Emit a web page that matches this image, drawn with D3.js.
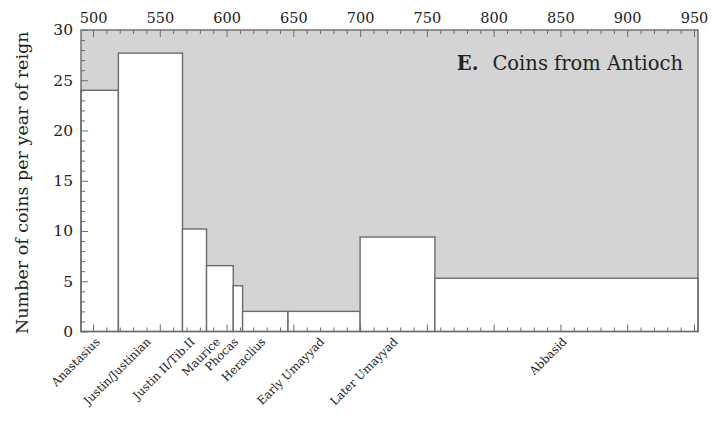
<!DOCTYPE html>
<html>
<head>
<meta charset="utf-8">
<script src="https://cdn.jsdelivr.net/npm/d3@7"></script>
<style>
  html, body { margin: 0; padding: 0; background: #fff; }
  svg text { font-family: "DejaVu Serif", "Liberation Serif", serif; fill: #222; }
</style>
</head>
<body>
<svg id="chart" width="713" height="428"></svg>
<script>
// Reigns / periods (years AD) and the coin rate for each
const periods = ["Anastasius", "Justin/Justinian", "Justin II/Tib.II", "Maurice", "Phocas",
                 "Heraclius", "Early Umayyad", "Later Umayyad", "Abbasid"];
const startYears = [491, 519, 567, 585, 605, 612, 646, 700, 756];
const endYears   = [519, 567, 585, 605, 612, 646, 700, 756, 953];
const coinsPerYear = [24.0, 27.7, 10.2, 6.55, 4.55, 2.0, 2.0, 9.4, 5.3];

const yearTicks = [500, 550, 600, 650, 700, 750, 800, 850, 900, 950];
const rateTicks = [0, 5, 10, 15, 20, 25, 30];

const svg = d3.select("#chart");
const plotLeft = 81, plotRight = 698, plotTop = 30, plotBottom = 331.5;

const x = d3.scaleLinear().domain([491, 953]).range([plotLeft, plotRight]);
const y = d3.scaleLinear().domain([0, 30]).range([plotBottom, plotTop]);

const frameColor = "#6c6c6c";

// shaded plotting field
svg.append("rect")
  .attr("x", plotLeft).attr("y", plotTop)
  .attr("width", plotRight - plotLeft).attr("height", plotBottom - plotTop)
  .attr("fill", "#d4d4d4");

// one bar per reign, width = length of reign
svg.append("g").selectAll("rect")
  .data(periods)
  .join("rect")
  .attr("x", (d, i) => x(startYears[i]))
  .attr("width", (d, i) => x(endYears[i]) - x(startYears[i]))
  .attr("y", (d, i) => y(coinsPerYear[i]))
  .attr("height", (d, i) => plotBottom - y(coinsPerYear[i]))
  .attr("fill", "#ffffff")
  .attr("stroke", frameColor)
  .attr("stroke-width", 1.4);

// frame
svg.append("rect")
  .attr("x", plotLeft).attr("y", plotTop)
  .attr("width", plotRight - plotLeft).attr("height", plotBottom - plotTop)
  .attr("fill", "none")
  .attr("stroke", frameColor)
  .attr("stroke-width", 1.4);

// top year axis: labelled every 50, minor ticks every 10, ticks point inward
const minorYears = d3.range(500, 951, 10);
const topAxis = d3.axisTop(x).tickValues(yearTicks).tickSize(0).tickPadding(7)
  .tickFormat(d3.format("d"));
const gTop = svg.append("g").attr("transform", `translate(0,${plotTop})`).call(topAxis);
gTop.select(".domain").remove();
gTop.selectAll("text").attr("font-size", 14.5).style("font-family", "DejaVu Serif, serif").attr("fill", "#222");

const gTopTicks = svg.append("g").attr("transform", `translate(0,${plotTop})`)
  .call(d3.axisBottom(x).tickValues(minorYears).tickSize(4).tickFormat(""));
gTopTicks.select(".domain").remove();
gTopTicks.selectAll("line").attr("stroke", frameColor)
  .attr("y2", d => (d % 50 === 0 ? 7 : 4));

// bottom ticks pointing up
const gBotTicks = svg.append("g").attr("transform", `translate(0,${plotBottom})`)
  .call(d3.axisTop(x).tickValues(minorYears).tickSize(4).tickFormat(""));
gBotTicks.select(".domain").remove();
gBotTicks.selectAll("line").attr("stroke", frameColor)
  .attr("y2", d => (d % 50 === 0 ? -7 : -4));

// left rate axis
const gLeft = svg.append("g").attr("transform", `translate(${plotLeft},0)`)
  .call(d3.axisLeft(y).tickValues(rateTicks).tickSize(0).tickPadding(8));
gLeft.select(".domain").remove();
gLeft.selectAll("text").attr("font-size", 15.5).style("font-family", "DejaVu Serif, serif").attr("fill", "#222");

const gLeftTicks = svg.append("g").attr("transform", `translate(${plotLeft},0)`)
  .call(d3.axisRight(y).tickValues(d3.range(0, 31, 1)).tickSize(4).tickFormat(""));
gLeftTicks.select(".domain").remove();
gLeftTicks.selectAll("line").attr("stroke", frameColor)
  .attr("x2", d => (d % 5 === 0 ? 7 : 4));

// y title
svg.append("text")
  .attr("transform", `translate(28,${(plotTop + plotBottom) / 2 + 2}) rotate(-90)`)
  .attr("text-anchor", "middle")
  .attr("font-size", 17.5)
  .text("Number of coins per year of reign");

// reign names under each bar, slanted
svg.append("g").selectAll("text")
  .data(periods)
  .join("text")
  .attr("transform", (d, i) => {
    const cx = x((startYears[i] + endYears[i]) / 2);
    return `translate(${cx + 1},${plotBottom + 11}) rotate(-45)`;
  })
  .attr("text-anchor", "end")
  .attr("font-size", 11.5)
  .text(d => d);

// panel title
const title = svg.append("text")
  .attr("x", 683).attr("y", 70)
  .attr("text-anchor", "end")
  .attr("font-size", 19.5);
title.append("tspan").attr("font-weight", "bold").text("E.");
title.append("tspan").attr("dx", 14).text("Coins from Antioch");
</script>
</body>
</html>
